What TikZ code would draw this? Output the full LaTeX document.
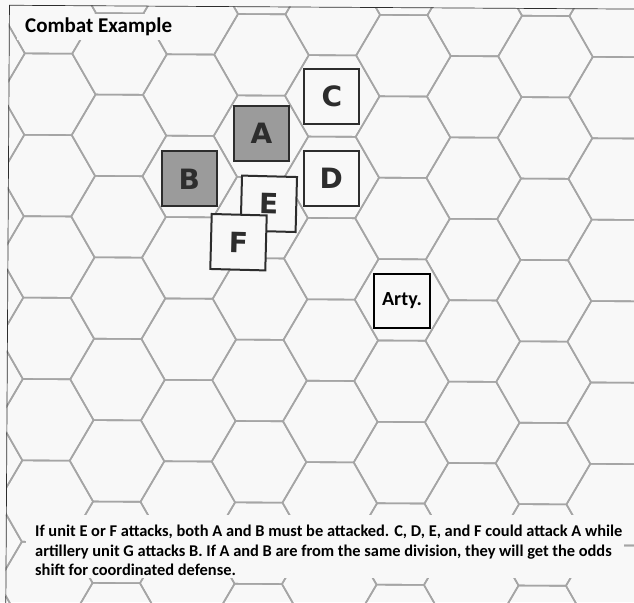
\documentclass[tikz,border=0pt]{standalone}
\usepackage{fontspec}
\setmainfont{Carlito}
\newfontfamily\unitfont{DejaVu Sans}
\usepackage{xcolor}
\usepackage{tikz}
\definecolor{paper}{RGB}{248,248,248}
\definecolor{hexgray}{RGB}{165,165,165}
\definecolor{unitgray}{RGB}{155,155,155}
\definecolor{ink}{RGB}{45,45,45}

\begin{document}
\begin{tikzpicture}[x=1pt, y=-1pt,
  hexline/.style={hexgray, line width=1.6pt, line join=round},
  unit/.style={draw=ink, line width=2pt, fill=paper, minimum width=55pt, minimum height=55pt, inner sep=0pt,
    text=ink, font=\unitfont\bfseries\fontsize{28}{28}\selectfont},
  hq/.style={unit, fill=unitgray},
  note/.style={anchor=base west, inner sep=0pt, font=\bfseries\fontsize{16.4}{19}\selectfont}]
\useasboundingbox[fill=paper] (0,0) rectangle (634,602);
\begin{scope}[rotate around={-0.35:(402,300)}]
\clip (7.3,7.3) rectangle (660,620);
\foreach \i in {0,...,10}
  \foreach \j in {-1,...,7} {
    \pgfmathsetmacro\cx{-24+71*\i}
    \pgfmathsetmacro\cy{55.7+81.4*\j+40.7*mod(\i,2)}
    \draw[hexline] (\cx-47.3,\cy) -- (\cx-23.7,\cy-40.7) -- (\cx+23.7,\cy-40.7) -- (\cx+47.3,\cy)
      -- (\cx+23.7,\cy+40.7) -- (\cx-23.7,\cy+40.7) -- cycle;
  }
\draw[ink, line width=1.4pt] (7.3,620) -- (7.3,7.3) -- (660,7.3);
\end{scope}
\node[fill=paper, inner xsep=8pt, inner ysep=4pt, anchor=base west, font=\bfseries\fontsize{21}{21}\selectfont]
  (title) at (17,32.7) {Combat Example};
\node[hq] (A) at (261.5,133.2) {A};
\node[hq] (B) at (189.2,178.8) {B};
\node[unit] (C) at (331.8,96.2) {C};
\node[unit] (D) at (331.2,178) {D};
\node[unit, rotate=-1.5] (E) at (268.8,203.8) {E};
\node[unit, rotate=-1.5] (F) at (238.5,242.2) {F};
\node[unit, draw=black, text=black, minimum width=56pt, minimum height=54pt,
  font=\bfseries\fontsize{20}{20}\selectfont] (arty) at (402,301) {Arty.};
\fill[paper] (26,515) rectangle (624,578);
\node[note] (line1) at (35,536.7) {If unit E or F attacks, both A and B must be attacked. C, D, E, and F could attack A while};
\node[note] (line2) at (35,556) {artillery unit G attacks B. If A and B are from the same division, they will get the odds};
\node[note] (line3) at (35,575.2) {shift for coordinated defense.};
\end{tikzpicture}
\end{document}
